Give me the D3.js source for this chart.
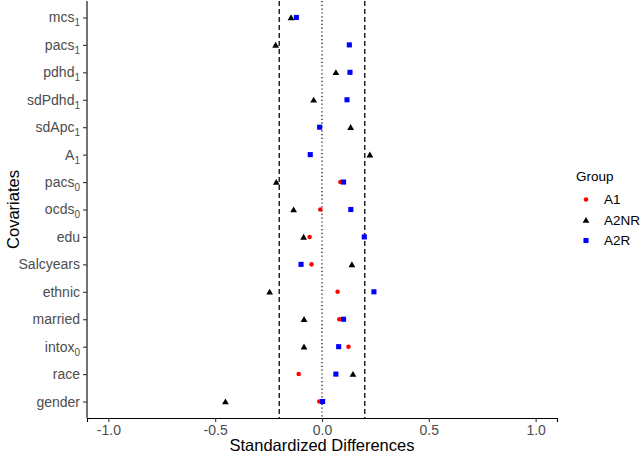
<!DOCTYPE html>
<html>
<head>
<meta charset="utf-8">
<script src="https://cdn.jsdelivr.net/npm/d3@7"></script>
<style>
  body { margin: 0; background: #fff; }
  svg { font-family: "Liberation Sans", Arial, sans-serif; display: block; }
</style>
</head>
<body>
<div id="chart"></div>
<script>
// covariates, top to bottom; "_" marks a subscript
const covariates = ["mcs_1", "pacs_1", "pdhd_1", "sdPdhd_1", "sdApc_1", "A_1", "pacs_0", "ocds_0",
                    "edu", "Salcyears", "ethnic", "married", "intox_0", "race", "gender"];
const groups = ["A1", "A2NR", "A2R"];
const a1   = [null, null, null, null, null, null, 0.086, -0.008, -0.058, -0.049, 0.073, 0.081, 0.124, -0.109, -0.013];
const a2nr = [-0.145, -0.217, 0.065, -0.039, 0.134, 0.224, -0.214, -0.133, -0.086, 0.140, -0.245, -0.084, -0.084, 0.145, -0.452];
const a2r  = [-0.120, 0.128, 0.131, 0.117, -0.011, -0.055, 0.101, 0.135, 0.198, -0.098, 0.243, 0.101, 0.078, 0.065, 0.003];
const xTicks = [-1.0, -0.5, 0.0, 0.5, 1.0];
const refLines = [-0.2, 0.2];

const W = 640, H = 452;
const pLeft = 87, pRight = 557, pTop = 1, pBottom = 418;

const svg = d3.select("#chart").append("svg")
    .attr("width", W).attr("height", H);

const x = d3.scaleLinear().domain([-1.1, 1.1]).range([pLeft, pRight]);
const y = d3.scalePoint().domain(covariates).range([pTop, pBottom]).padding(0.6);

// reference lines
svg.selectAll(".ref").data(refLines).enter().append("line")
    .attr("x1", d => x(d)).attr("x2", d => x(d))
    .attr("y1", pTop).attr("y2", pBottom)
    .attr("stroke", "#222").attr("stroke-width", 1.5)
    .attr("stroke-dasharray", "5,3");
svg.append("line")
    .attr("x1", x(0)).attr("x2", x(0))
    .attr("y1", pTop).attr("y2", pBottom)
    .attr("stroke", "#000").attr("stroke-width", 1.2)
    .attr("stroke-dasharray", "1.2,2.6");

// points
const color = {A1: "#ff0000", A2NR: "#000000", A2R: "#0000ff"};
const sym = {
    A1: d3.symbol().type(d3.symbolCircle).size(16),
    A2NR: d3.symbol().type(d3.symbolTriangle).size(20),
    A2R: d3.symbol().type(d3.symbolSquare).size(26)
};
const series = {A1: a1, A2NR: a2nr, A2R: a2r};
groups.forEach(g => {
    const pts = covariates.map((c, i) => ({c, v: series[g][i]})).filter(d => d.v !== null);
    svg.selectAll(".p-" + g).data(pts).enter().append("path")
        .attr("d", sym[g])
        .attr("transform", d => `translate(${x(d.v)},${y(d.c) + (g === "A2NR" ? 0.8 : 0)})`)
        .attr("fill", color[g]);
});

// x axis
const xAxis = svg.append("g").attr("transform", `translate(0,${pBottom})`)
    .call(d3.axisBottom(x).tickValues(xTicks).tickFormat(d3.format(".1f")).tickSizeOuter(0).tickSize(4).tickPadding(3));
xAxis.select(".domain").attr("stroke", "#000").attr("stroke-width", 1.1);
xAxis.selectAll(".tick line").attr("stroke", "#333").attr("stroke-width", 1.1);
xAxis.selectAll(".tick text").attr("fill", "#4d4d4d").attr("font-size", 14)
    .text(d => d3.format(".1f")(d).replace("−", "-"));

// y axis
const yAxis = svg.append("g").attr("transform", `translate(${pLeft},0)`)
    .call(d3.axisLeft(y).tickSizeOuter(0).tickSize(4).tickPadding(3));
yAxis.select(".domain").attr("stroke", "#000").attr("stroke-width", 1.1)
    .attr("d", `M0,${pTop}V${pBottom}`);
yAxis.selectAll(".tick line").attr("stroke", "#333").attr("stroke-width", 1.1);
yAxis.selectAll(".tick text").each(function(d) {
    const t = d3.select(this).text(null).attr("fill", "#4d4d4d").attr("font-size", 14);
    const [base, sub] = d.split("_");
    t.append("tspan").text(base);
    if (sub !== undefined) {
        t.append("tspan").attr("font-size", 10).attr("dy", 4).text(sub);
    }
});

// axis titles
svg.append("text")
    .attr("x", x(0)).attr("y", 451)
    .attr("text-anchor", "middle").attr("font-size", 16.5).attr("fill", "#000")
    .text("Standardized Differences");
svg.append("text")
    .attr("transform", `translate(19,${(pTop + pBottom) / 2}) rotate(-90)`)
    .attr("text-anchor", "middle").attr("font-size", 16.5).attr("fill", "#000")
    .text("Covariates");

// legend
const legend = svg.append("g");
legend.append("text").attr("x", 576).attr("y", 181)
    .attr("font-size", 13.5).attr("fill", "#000").text("Group");
groups.forEach((g, i) => {
    const cy = 199.5 + i * 20.5;
    legend.append("path").attr("d", sym[g])
        .attr("transform", `translate(586,${cy + (g === "A2NR" ? 0.8 : 0)})`)
        .attr("fill", color[g]);
    legend.append("text").attr("x", 604).attr("y", cy + 4.8)
        .attr("font-size", 13.5).attr("fill", "#000").text(g);
});
</script>
</body>
</html>
